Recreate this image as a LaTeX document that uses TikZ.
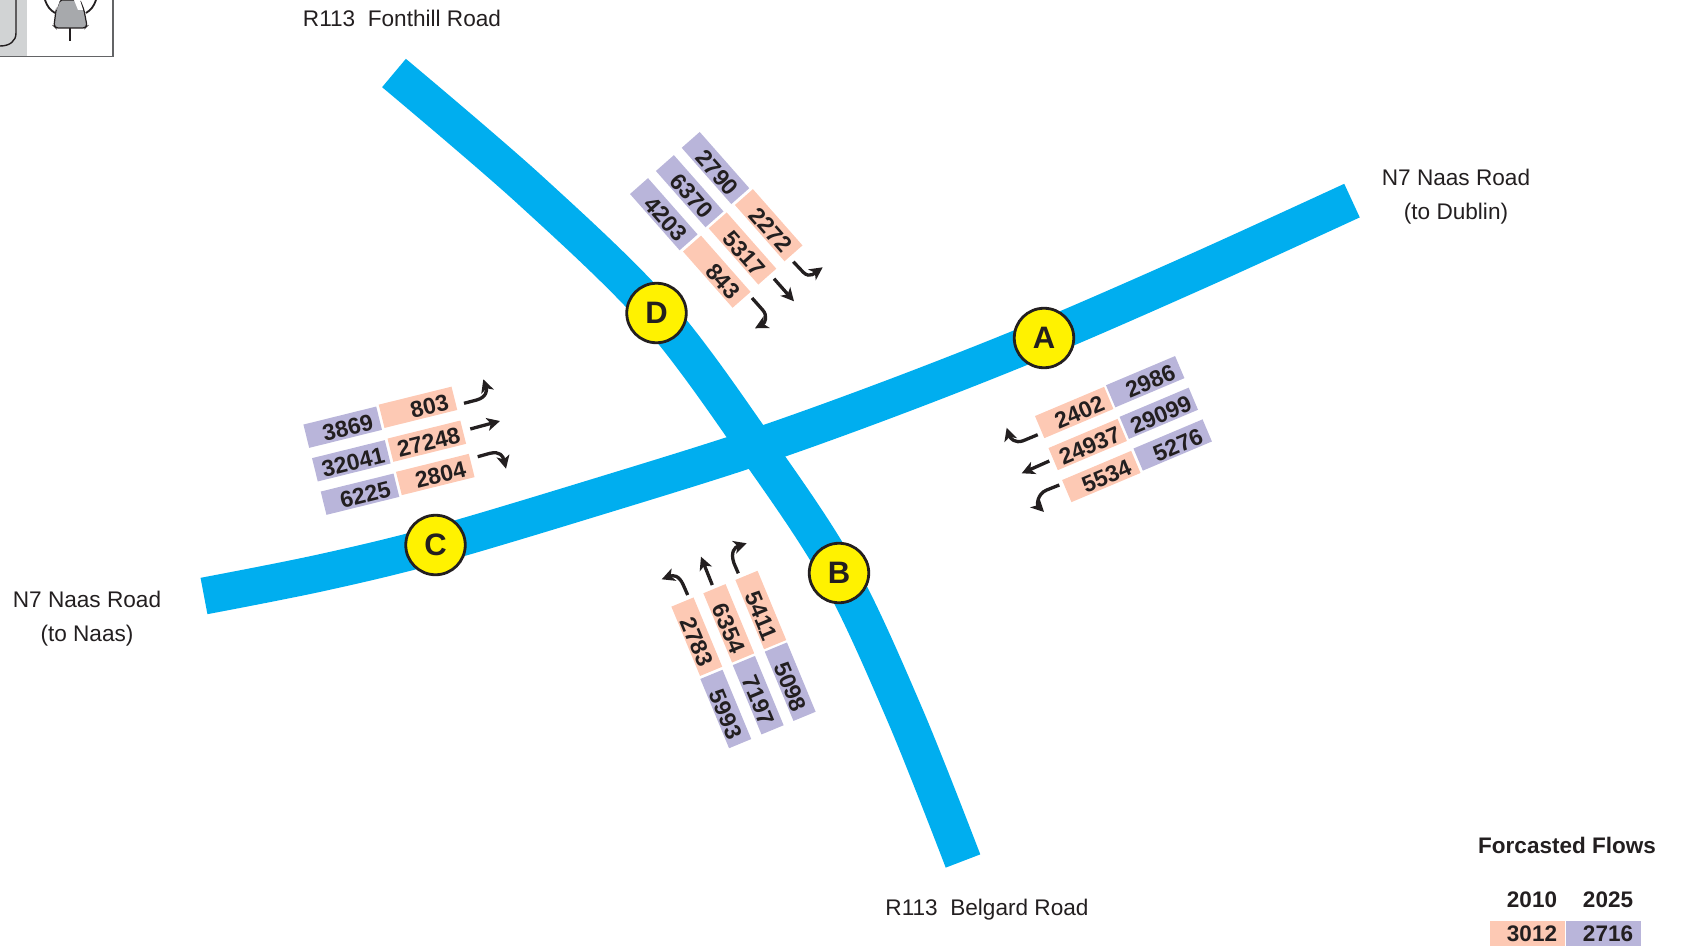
\documentclass[tikz,border=0pt]{standalone}
\usepackage{fontspec}
\setmainfont{Liberation Sans}
\usetikzlibrary{arrows.meta}
\definecolor{roadblue}{HTML}{00AEEF}
\definecolor{inkdark}{HTML}{231F20}
\definecolor{flowpink}{HTML}{FDC9B4}
\definecolor{flowpurple}{HTML}{B9B5DA}
\definecolor{signyellow}{HTML}{FFF200}
\definecolor{framegrey}{HTML}{636466}
\definecolor{panelgrey}{HTML}{D1D3D4}
\definecolor{bodygrey}{HTML}{A7A9AC}
\tikzset{
  road/.style={draw=roadblue,line width=37pt,line cap=butt,line join=round},
  junction/.style={circle,draw=inkdark,fill=signyellow,line width=2.8pt,minimum size=59.5pt,inner sep=0pt,
    text=inkdark,font=\fontsize{31}{31}\selectfont\bfseries},
  flowbox/.style={draw=none,text=inkdark,font=\fontsize{23}{24}\selectfont\bfseries,
    text width=61pt,align=right,inner xsep=7pt,inner ysep=2.25pt,text height=19.5pt,text depth=0pt},
  roadname/.style={text=inkdark,font=\fontsize{22.6}{34}\selectfont,align=center,inner sep=0pt},
  legendtext/.style={text=inkdark,font=\fontsize{22.5}{24}\selectfont\bfseries,inner sep=0pt},
  turn/.style={draw=inkdark,line width=3.3pt,-{Stealth[length=13pt,width=13pt,inset=3.5pt]}},
}
\newcommand{\flowlab}[6]{\node[flowbox,fill=#5,rotate=#4] (#1) at (#2,#3) {#6};}
\begin{document}
\begin{tikzpicture}[x=1pt,y=-1pt]
\useasboundingbox (0,0) rectangle (1682,947);
% inset frame
\fill[panelgrey] (0,0) rectangle (27,56);
\draw[framegrey,line width=1.4pt] (113,0) -- (113,56.5) -- (0,56.5);
\draw[inkdark,line width=1.4pt] (0,46) .. controls (10,46) and (16,41) .. (16,33) -- (16,0);
\draw[inkdark,line width=1.8pt] (45,0) .. controls (47,6) and (50,10) .. (55,13);
\draw[inkdark,line width=1.8pt] (96,0) .. controls (94,6) and (91,10) .. (86,13);
\draw[inkdark,fill=bodygrey,line width=1.2pt,rounded corners=2pt]
  (56,10) -- (54,26) -- (56,28) -- (85,28) -- (87,26) -- (84,10) -- (80,0) -- (60,0) -- cycle;
\fill[white] (56.5,10) -- (60,0) -- (57.5,0) -- (56,5) -- cycle;
\fill[white] (78,10) -- (83,10) -- (80,0) -- (74,0) -- cycle;
\draw[inkdark,line width=1.6pt] (70,28) -- (70,41);
% roads
\draw[road] plot[smooth,tension=.55] coordinates {(204,596) (320,573) (435.5,545) (600,496) (756,447) (900,395) (1044,338) (1200,270) (1352,200.6)};
\draw[road] plot[smooth,tension=.55] coordinates {(394,73) (530,190) (656.5,313) (756,447) (839,573) (905,715) (963,861)};
% junction markers
\node[junction] (A) at (1044,338) {A};
\node[junction] (B) at (839,573) {B};
\node[junction] (C) at (435.5,545) {C};
\node[junction] (D) at (656.5,313) {D};
% road names
\node[roadname] (nfont) at (402,18) {R113\ \ Fonthill Road};
\node[roadname] (ndub) at (1456,197) {N7 Naas Road\\(to Dublin)};
\node[roadname] (nnaas) at (87,619) {N7 Naas Road\\(to Naas)};
\node[roadname] (nbel) at (987,909.5) {R113\ \ Belgard Road};
% north arm flows
\flowlab{f2790}{715.5}{168}{-48.6}{flowpurple}{2790}
\flowlab{f6370}{689.7}{191.2}{-48.6}{flowpurple}{6370}
\flowlab{f4203}{663.8}{214.2}{-48.6}{flowpurple}{4203}
\flowlab{f2272}{768.7}{225.2}{-48.6}{flowpink}{2272}
\flowlab{f5317}{742.5}{248.5}{-48.6}{flowpink}{5317}
\flowlab{f843}{716.8}{271.7}{-48.6}{flowpink}{843}
% east arm flows
\flowlab{f2402}{1074.2}{412.5}{22.9}{flowpink}{2402}
\flowlab{f2986}{1145.2}{381.7}{22.9}{flowpurple}{2986}
\flowlab{f24937}{1087.7}{444.5}{22.9}{flowpink}{24937}
\flowlab{f29099}{1158.8}{413.3}{22.9}{flowpurple}{29099}
\flowlab{f5534}{1101.3}{476.5}{22.9}{flowpink}{5534}
\flowlab{f5276}{1172.7}{445}{22.9}{flowpurple}{5276}
% west arm flows
\flowlab{f3869}{342.7}{427.2}{13.9}{flowpurple}{3869}
\flowlab{f803}{418}{407.3}{13.9}{flowpink}{803}
\flowlab{f32041}{351.3}{460.8}{13.9}{flowpurple}{32041}
\flowlab{f27248}{426.8}{441.2}{13.9}{flowpink}{27248}
\flowlab{f6225}{360}{494.2}{13.9}{flowpurple}{6225}
\flowlab{f2804}{435.3}{474.5}{13.9}{flowpink}{2804}
% south arm flows
\flowlab{f2783}{696.8}{636.7}{-67.5}{flowpink}{2783}
\flowlab{f6354}{728.8}{623.3}{-67.5}{flowpink}{6354}
\flowlab{f5411}{760.8}{610}{-67.5}{flowpink}{5411}
\flowlab{f5993}{725.8}{709}{-67.5}{flowpurple}{5993}
\flowlab{f7197}{758.2}{695.2}{-67.5}{flowpurple}{7197}
\flowlab{f5098}{790.2}{681.7}{-67.5}{flowpurple}{5098}
% turning arrows, north
\draw[turn] (793.3,261.7) -- (803.3,272.3) .. controls (810,279) and (816,272) .. (822.7,267.3);
\draw[turn] (774,278.7) -- (794,301.3);
\draw[turn] (752,298) -- (762.7,310) .. controls (768,316) and (765,323) .. (755,328.3);
% east
\draw[turn] (1037.7,434.7) -- (1023.3,440.7) .. controls (1015,444) and (1010,438) .. (1006.7,427.7);
\draw[turn] (1049.3,461) -- (1021.7,473.3);
\draw[turn] (1059.3,485) -- (1046.7,490) .. controls (1037,494) and (1037,505) .. (1044,512);
% west
\draw[turn] (464,403.3) -- (476.7,400) .. controls (487,397) and (487,390) .. (483.3,379.3);
\draw[turn] (470.3,429) -- (500,421);
\draw[turn] (477.7,456.7) -- (490,453.3) .. controls (500,451) and (503,456) .. (506,468.7);
% south
\draw[turn] (687.7,595) -- (683.3,585) .. controls (679,575) and (673,575) .. (661.7,579.3);
\draw[turn] (712.3,585) -- (701,556.7);
\draw[turn] (738.3,573.3) -- (734,563.3) .. controls (730,552) and (735,547) .. (746.7,543.3);
% legend
\node[legendtext] (ltitle) at (1567,845) {Forcasted Flows};
\node[legendtext] (l2010) at (1532,900) {2010};
\node[legendtext] (l2025) at (1608,900) {2025};
\fill[flowpink] (1490,921) rectangle (1565,946);
\fill[flowpurple] (1566,921) rectangle (1641,946);
\node[legendtext] (l3012) at (1532,934) {3012};
\node[legendtext] (l2716) at (1608,934) {2716};
\end{tikzpicture}
\end{document}
